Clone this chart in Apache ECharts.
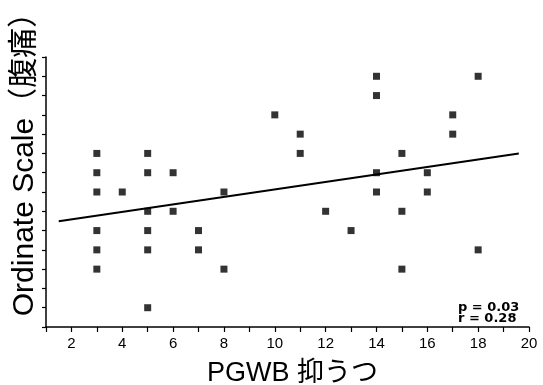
<!DOCTYPE html>
<html>
<head>
<meta charset="utf-8">
<script src="https://cdn.jsdelivr.net/npm/echarts@6/dist/echarts.min.js"></script>
<style>
html,body{margin:0;padding:0;background:#fff;}
#chart{width:543px;height:385px;}
</style>
</head>
<body>
<div id="chart"></div>
<script>
// PGWB depression score (x) and abdominal pain ordinate scale (y), paired by index
const xValues = [3,3,3,3,3,3, 4, 5,5,5,5,5,5, 6,6, 7,7, 8,8, 10, 11,11, 12, 13,
                 14,14,14,14, 15,15,15, 16,16, 17,17, 18,18];
const yValues = [5,4.5,4,3,2.5,2, 4, 5,4.5,3.5,3,2.5,1, 4.5,3.5, 3,2.5, 4,2, 6, 5.5,5, 3.5, 3,
                 7,6.5,4.5,4, 5,3.5,2, 4.5,4, 6,5.5, 7,2.5];
const fitX = [1.5, 19.6];
const fitY = [3.24, 5.0];
const statLines = ['p = 0.03', 'r = 0.28'];
const xTitle = 'PGWB 抑うつ';
const yTitle = 'Ordinate Scale（腹痛）';

const points = xValues.map((x, i) => [x, yValues[i]]);
const fitLine = fitX.map((x, i) => [x, fitY[i]]);

const chart = echarts.init(document.getElementById('chart'));
const latin = 'Arial, "Liberation Sans", "Noto Sans CJK JP", sans-serif';
chart.setOption({
  animation: false,
  backgroundColor: '#fff',
  grid: {left: 46, right: 14, top: 57, bottom: 58, containLabel: false, outerBoundsMode: 'none'},
  xAxis: {
    type: 'value', min: 1, max: 20, interval: 1,
    name: xTitle, nameLocation: 'middle', nameGap: 33,
    nameTextStyle: {color: '#000', fontSize: 27, fontFamily: latin, padding: [0,0,0,10]},
    axisLine: {lineStyle: {color: '#000', width: 1.5}},
    axisTick: {show: true, length: 5, lineStyle: {color: '#000', width: 1.2}},
    axisLabel: {color: '#000', fontSize: 15, fontFamily: latin, margin: 9,
      formatter: v => (v % 2 === 0 ? String(v) : '')},
    splitLine: {show: false}
  },
  yAxis: {
    type: 'value', min: 0.5, max: 7.5, interval: 0.5,
    axisLine: {lineStyle: {color: '#000', width: 1.5}},
    axisTick: {show: true, length: 4, lineStyle: {color: '#000', width: 1.2}},
    axisLabel: {show: false},
    splitLine: {show: false}
  },
  graphic: [
    {type: 'text', x: 25, y: 157, rotation: Math.PI / 2,
     style: {text: yTitle, font: '30px ' + latin, fill: '#000', align: 'center', verticalAlign: 'middle'}},
    {type: 'text', left: 458, top: 301,
     style: {text: statLines.join('\n'), font: 'bold 13px "DejaVu Sans", sans-serif', fill: '#000', lineHeight: 11.5, align: 'left'}}
  ],
  series: [
    {type: 'scatter', data: points, symbol: 'rect', symbolSize: 7,
     itemStyle: {color: '#000'}, z: 3},
    {type: 'line', data: fitLine, symbol: 'none',
     lineStyle: {color: '#000', width: 2}, z: 2}
  ]
});
</script>
</body>
</html>
